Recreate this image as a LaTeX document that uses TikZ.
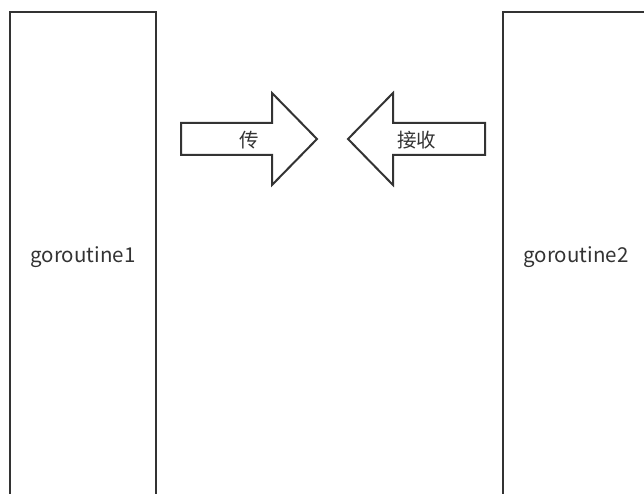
\documentclass[tikz,border=0pt]{standalone}
\usepackage{fontspec}
\setmainfont{Noto Sans CJK SC}
\usetikzlibrary{calc, positioning}
\definecolor{ink}{HTML}{333333}
\tikzset{
    lane/.style={rectangle, draw=ink, line width=2pt, fill=white, text=ink, minimum width=146pt, minimum height=490pt, inner sep=0pt, font=\fontsize{20.5}{24}\selectfont},
    blockArrow/.style={draw=ink, line width=2pt, fill=white, line join=miter},
    arrowText/.style={text=ink, inner sep=0pt, font=\fontsize{19.5}{23}\selectfont},
}
% block arrow: #1 = shaft end, #2 = head base, #3 = tip (x values), centred on y=139
\newcommand{\drawBlockArrow}[4]{
    \draw[blockArrow] (#1,123) -- (#2,123) -- (#2,93) -- (#3,139) -- (#2,185) -- (#2,155) -- (#1,155) -- cycle;
    \node[arrowText] at ($(#1,140)!0.5!(#3,140)$) {#4};
}

\begin{document}
\begin{tikzpicture}[x=1pt, y=-1pt]
        \useasboundingbox (0,0) rectangle (644,494);

        \node[lane] (g1) at (83,257) {goroutine1};
        \node[lane] (g2) at (576,257) {goroutine2};

        \drawBlockArrow{181}{272}{317}{传}
        \drawBlockArrow{485}{393}{348}{接收}
    \end{tikzpicture}
\end{document}
